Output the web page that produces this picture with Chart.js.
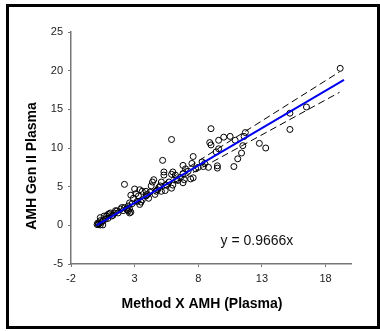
<!DOCTYPE html>
<html>
<head>
<meta charset="utf-8">
<script src="https://cdn.jsdelivr.net/npm/chart.js@4.4.1/dist/chart.umd.min.js"></script>
<style>
  html, body { margin: 0; padding: 0; background: #fff; }
  #frame { position: absolute; left: 6px; top: 4px; width: 374px; height: 325px; box-sizing: border-box; border: 3px solid #000; }
  #wrap { position: absolute; left: 0; top: 0; width: 380px; height: 331px; }
</style>
</head>
<body>
<div id="frame"></div>
<div id="wrap"><canvas id="chart" width="380" height="331"></canvas></div>
<script>
// samples: Method X AMH (x) vs AMH Gen II (y)
const sampleX = [19.15, 16.5, 15.2, 15.2, 13.3, 12.8, 11.7, 11.6, 11.5, 11.4, 11.1, 10.8, 10.9, 10.5, 10.0,
  9.6, 9.6, 9.4, 9.0, 8.9, 9.0, 9.5, 9.5, 8.8, 8.4, 8.0, 8.3, 7.6, 7.5, 7.6, 7.4, 7.0, 6.8, 6.8, 6.6, 6.8,
  6.0, 6.2, 5.9, 5.9, 6.0, 5.9, 5.3, 5.3, 5.2, 5.1, 5.0, 5.1, 4.7, 4.4, 4.5, 4.3, 3.9, 3.6, 3.9, 3.4, 3.0,
  3.1, 3.6, 3.2, 3.4, 2.9, 2.7, 2.2, 2.6, 2.5, 2.5, 2.6, 2.2, 1.9, 1.6, 1.4, 1.1, 0.9, 0.6, 0.3, 1.0, 1.5,
  2.0, 1.7, 1.2, 0.7, 0.3, 0.1, 0.05, 0.15, 0.3, 0.5, 0.4, 0.8, 4.0, 4.2, 4.8, 5.5, 5.7, 6.4, 3.3, 2.8,
  2.4, 2.1, 1.3, 0.9, 0.2, 0.5, 2.7, 2.6, 3.5, 4.1, 4.6, 5.4, 4.9, 7.2, 7.8, 8.5, 6.9, 6.3];
const sampleY = [20.3, 15.3, 14.5, 12.4, 10.0, 10.6, 12.0, 11.5, 10.3, 9.35, 8.6, 7.6, 11.0, 11.5, 11.4,
  11.0, 9.9, 9.5, 12.5, 10.7, 10.4, 7.7, 7.4, 7.5, 7.6, 7.5, 8.2, 8.9, 8.0, 6.15, 6.0, 7.3, 7.75, 6.7, 6.2, 5.5,
  6.9, 6.5, 11.1, 6.6, 5.2, 4.8, 6.9, 6.5, 8.4, 5.6, 5.1, 4.4, 4.4, 5.6, 5.9, 5.1, 4.4, 4.4, 3.8, 4.6, 4.7,
  4.1, 3.3, 3.1, 2.7, 3.5, 3.9, 5.3, 2.9, 2.5, 1.85, 2.1, 2.3, 2.1, 1.85, 1.6, 1.6, 1.4, 1.2, 1.0, 1.5, 1.9,
  2.3, 1.6, 1.2, 0.8, 0.6, 0.3, 0.1, 0.1, 0.05, 0.05, 0.4, 1.2, 4.0, 4.3, 4.6, 5.2, 5.6, 5.8, 3.8, 2.8,
  2.0, 1.9, 1.3, 0.9, 0.2, 0.6, 1.7, 1.6, 3.0, 3.5, 4.0, 4.5, 4.9, 7.0, 7.3, 8.0, 5.9, 5.9];

// fitted line y = 0.9666x and the two dashed band lines (end points)
const fitX = [0, 19.45];
const fitY = [0, 18.8];
const upperX = [0, 19.1];
const upperY = [0, 19.85];
const lowerX = [0, 19.1];
const lowerY = [0, 17.2];

const xTicks = [-2, 3, 8, 13, 18];
const yTicks = [-5, 0, 5, 10, 15, 20, 25];
const fitLabel = 'y = 0.9666x';
const fitLabelAt = [9.75, -2.1];

const xTitle = 'Method X AMH (Plasma)';
const yTitle = 'AMH Gen II Plasma';

const FONT = "'Liberation Sans', Arial, sans-serif";

function pts(xs, ys) {
  return xs.map((x, i) => ({ x: x, y: ys[i] }));
}

const textPlugin = {
  id: 'textPlugin',
  afterDraw(chart) {
    const { ctx, chartArea, scales } = chart;
    ctx.save();
    ctx.fillStyle = '#000';
    ctx.font = 'bold 14px ' + FONT;
    ctx.textAlign = 'center';
    ctx.textBaseline = 'middle';
    // x title
    ctx.fillText(xTitle, (chartArea.left + chartArea.right) / 2 - 9, chartArea.bottom + 40);
    // y title
    ctx.translate(chartArea.left - 39, (chartArea.top + chartArea.bottom) / 2 + 18);
    ctx.rotate(-Math.PI / 2);
    ctx.fillText(yTitle, 0, 0);
    ctx.restore();

    ctx.save();
    ctx.fillStyle = '#111';
    ctx.font = '14px ' + FONT;
    ctx.textAlign = 'left';
    ctx.textBaseline = 'middle';
    ctx.fillText(fitLabel, scales.x.getPixelForValue(fitLabelAt[0]), scales.y.getPixelForValue(fitLabelAt[1]));
    ctx.restore();
  }
};

const axisCommon = {
  border: { color: '#777', width: 1.5 },
  grid: { display: true, drawOnChartArea: false, drawTicks: true, tickLength: 3, color: '#777', lineWidth: 1 },
  ticks: { color: '#222', font: { family: FONT, size: 11 }, padding: 5 }
};

new Chart(document.getElementById('chart'), {
  type: 'scatter',
  data: {
    datasets: [
      {
        type: 'line', data: pts(fitX, fitY), borderColor: '#0000ee', borderWidth: 2,
        pointRadius: 0, fill: false
      },
      {
        type: 'line', data: pts(upperX, upperY), borderColor: '#000', borderWidth: 1,
        borderDash: [7, 4], pointRadius: 0, fill: false
      },
      {
        type: 'line', data: pts(lowerX, lowerY), borderColor: '#000', borderWidth: 1,
        borderDash: [7, 4], pointRadius: 0, fill: false
      },
      {
        data: pts(sampleX, sampleY), pointRadius: 3, pointBorderWidth: 1,
        borderColor: '#000', backgroundColor: 'rgba(0,0,0,0)', pointBackgroundColor: 'rgba(0,0,0,0)'
      }
    ]
  },
  options: {
    responsive: false,
    animation: false,
    layout: { padding: { top: 32, right: 29, bottom: 0, left: 0 } },
    plugins: { legend: { display: false }, tooltip: { enabled: false } },
    scales: {
      x: Object.assign({}, axisCommon, {
        type: 'linear', min: -2, max: 20,
        afterBuildTicks: (s) => { s.ticks = xTicks.map(v => ({ value: v })); },
        afterFit: (s) => { s.height = 67; }
      }),
      y: Object.assign({}, axisCommon, {
        type: 'linear', min: -5, max: 25,
        afterBuildTicks: (s) => { s.ticks = yTicks.map(v => ({ value: v })); },
        afterFit: (s) => { s.width = 71; }
      })
    }
  },
  plugins: [textPlugin]
});
</script>
</body>
</html>
